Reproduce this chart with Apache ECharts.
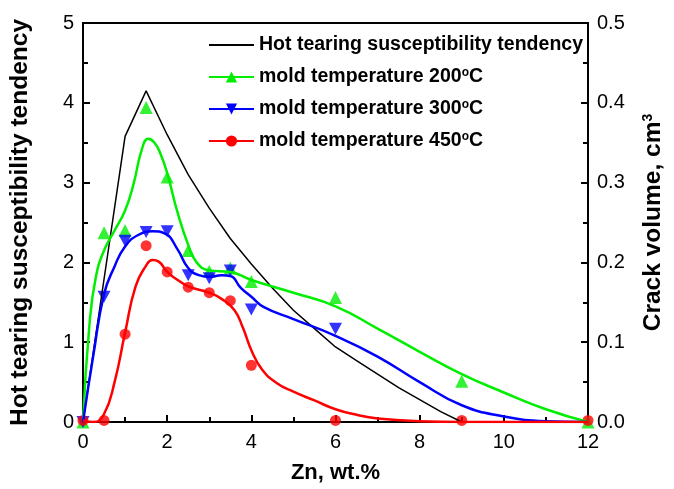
<!DOCTYPE html>
<html><head><meta charset="utf-8">
<script src="https://cdn.jsdelivr.net/npm/echarts@6/dist/echarts.min.js"></script>
<style>html,body{margin:0;padding:0;background:#fff}#c{width:674px;height:489px}</style>
</head><body><div id="c"></div>
<script>
// Hot tearing susceptibility tendency (left axis)
var htsX = [0, 1, 1.5, 2, 2.5, 3, 3.5, 4, 4.5, 5, 5.5, 6, 6.5, 7, 7.5, 8, 8.5, 9];
var htsY = [0, 3.58, 4.15, 3.6, 3.1, 2.68, 2.3, 1.98, 1.68, 1.4, 1.17, 0.94, 0.77, 0.6, 0.43, 0.28, 0.13, 0];

// Measured crack volume (cm3, right axis)
var znPts = [0, 0.5, 1, 1.5, 2, 2.5, 3, 3.5, 4, 6, 9, 12];
var vol200 = [0, 0.237, 0.240, 0.394, 0.307, 0.215, 0.189, 0.193, 0.176, 0.156, 0.051, 0];
var znPts300 = [0, 0.5, 1, 1.5, 2, 2.5, 3, 3.5, 4, 6];
var vol300 = [0, 0.157, 0.227, 0.238, 0.239, 0.184, 0.180, 0.190, 0.141, 0.117];
var vol450 = [0.002, 0.002, 0.110, 0.221, 0.188, 0.169, 0.162, 0.152, 0.071, 0.002, 0.002, 0.002];

// Fitted curves (cm3)
var fit200X = [0, 0.15, 0.3, 0.5, 0.75, 1, 1.2, 1.4, 1.55, 1.7, 1.85, 2, 2.25, 2.5, 2.7, 3, 3.5, 4, 5, 6, 7, 8, 9, 10, 11, 12];
var fit200Y = [0, 0.12, 0.18, 0.215, 0.24, 0.265, 0.298, 0.342, 0.355, 0.350, 0.335, 0.312, 0.262, 0.222, 0.200, 0.190, 0.188, 0.178, 0.162, 0.145, 0.117, 0.088, 0.060, 0.037, 0.016, 0];
var fit300X = [0, 0.25, 0.5, 0.75, 1, 1.3, 1.65, 1.95, 2.25, 2.5, 2.75, 3, 3.3, 3.5, 3.75, 4, 4.3, 5, 6, 7, 8, 9, 10, 11, 12];
var fit300Y = [0, 0.085, 0.16, 0.195, 0.22, 0.234, 0.239, 0.236, 0.216, 0.193, 0.184, 0.182, 0.184, 0.183, 0.168, 0.157, 0.144, 0.129, 0.108, 0.082, 0.050, 0.021, 0.007, 0.001, 0];
var fit450X = [0, 0.25, 0.5, 0.75, 1, 1.25, 1.5, 1.65, 1.8, 2, 2.25, 2.5, 3, 3.3, 3.6, 3.8, 4, 4.25, 4.6, 5, 5.5, 6, 6.5, 7, 8, 9, 12];
var fit450Y = [0.002, 0, 0.010, 0.050, 0.112, 0.170, 0.196, 0.203, 0.201, 0.188, 0.178, 0.170, 0.162, 0.154, 0.140, 0.118, 0.090, 0.066, 0.049, 0.038, 0.027, 0.016, 0.009, 0.0045, 0.001, 0, 0];

var xTicks = [0, 2, 4, 6, 8, 10, 12];
var leftTicks = [0, 1, 2, 3, 4, 5];
var rightTicks = [0.0, 0.1, 0.2, 0.3, 0.4, 0.5];

function pairs(xs, ys){ return xs.map(function(x,i){ return [x, ys[i]]; }); }

var GREEN = '#00ee00', BLUE = '#0000ff', RED = '#ff0000';
var downTri = 'path://M0,0 L10,0 L5,9 Z';
var names = ['Hot tearing susceptibility tendency', 'mold temperature 200', 'mold temperature 300', 'mold temperature 450'];
var FF = 'Liberation Sans';

var chart = echarts.init(document.getElementById('c'));
var axisCommon = {
  axisLine: {show: true, lineStyle: {color: '#000', width: 2}},
  axisTick: {show: true, inside: true, length: 7, lineStyle: {color: '#000', width: 2}},
  minorTick: {show: true, splitNumber: 2, length: 5, lineStyle: {color: '#000', width: 2}},
  splitLine: {show: false}
};
chart.setOption({
  animation: false,
  grid: {left: 83, right: 77, top: 23, bottom: 67, show: true, borderColor: '#000', borderWidth: 2},
  legend: {
    data: [
      {name: names[0], itemStyle: {color: 'rgba(0,0,0,0)', borderWidth: 0}},
      names[1], names[2], names[3]
    ],
    orient: 'vertical', left: 203, top: 30, itemWidth: 45, itemHeight: 14, itemGap: 12,
    textStyle: {color: '#000', fontSize: 19.5, fontWeight: 'bold', fontFamily: FF,
      rich: {sup: {fontSize: 12, fontWeight: 'bold', verticalAlign: 'top', fontFamily: FF, color: '#000'},
             t: {fontSize: 19.5, fontWeight: 'bold', fontFamily: FF, color: '#000'}}},
    formatter: function(n){ if (n === names[0]) return '{t|' + n + '}'; return '{t|' + n + '}{sup|o}{t|C}'; }
  },
  xAxis: Object.assign({}, axisCommon, {
    type: 'value', min: 0, max: 12, interval: 2,
    axisLabel: {color: '#000', fontSize: 20, fontFamily: FF, margin: 10,
      formatter: function(v){ return xTicks.indexOf(v) >= 0 ? String(v) : ''; }},
    name: 'Zn, wt.%', nameLocation: 'middle', nameGap: 40,
    nameTextStyle: {color: '#000', fontSize: 22, fontWeight: 'bold', fontFamily: FF}
  }),
  yAxis: [
    Object.assign({}, axisCommon, {
      type: 'value', min: 0, max: 5, interval: 1, position: 'left',
      axisLabel: {color: '#000', fontSize: 20, fontFamily: FF, margin: 9,
        formatter: function(v){ return leftTicks.indexOf(v) >= 0 ? String(v) : ''; }},
      name: 'Hot tearing susceptibility tendency', nameLocation: 'middle', nameGap: 50, nameRotate: 90,
      nameTextStyle: {color: '#000', fontSize: 24.5, fontWeight: 'bold', fontFamily: FF}
    }),
    Object.assign({}, axisCommon, {
      type: 'value', min: 0, max: 0.5, interval: 0.1, position: 'right',
      axisLabel: {color: '#000', fontSize: 20, fontFamily: FF, margin: 9,
        formatter: function(v){ return v.toFixed(1); }},
      name: 'Crack volume, cm{sup|3}', nameLocation: 'middle', nameGap: 53, nameRotate: 90,
      nameTextStyle: {color: '#000', fontSize: 24.5, fontWeight: 'bold', fontFamily: FF,
        rich: {sup: {fontSize: 14, fontWeight: 'bold', verticalAlign: 'top', fontFamily: FF, color: '#000'}}}
    })
  ],
  series: [
    {name: names[0], type: 'line', yAxisIndex: 0, data: pairs(htsX, htsY), symbol: 'circle', showSymbol: false,
     lineStyle: {color: '#000', width: 1.5}, itemStyle: {color: '#000'}},
    {name: names[1], type: 'line', yAxisIndex: 1, data: pairs(fit200X, fit200Y), smooth: 0.5,
     symbol: 'triangle', symbolSize: 13, showSymbol: false, lineStyle: {color: GREEN, width: 2.5}, itemStyle: {color: GREEN}},
    {name: names[2], type: 'line', yAxisIndex: 1, data: pairs(fit300X, fit300Y), smooth: 0.5,
     symbol: downTri, symbolSize: [13, 12], showSymbol: false, lineStyle: {color: BLUE, width: 2.5}, itemStyle: {color: BLUE}},
    {name: names[3], type: 'line', yAxisIndex: 1, data: pairs(fit450X, fit450Y), smooth: 0.5,
     symbol: 'circle', symbolSize: 10, showSymbol: false, lineStyle: {color: RED, width: 2.5}, itemStyle: {color: RED}},
    {name: 'p200', type: 'scatter', yAxisIndex: 1, data: pairs(znPts, vol200), symbol: 'triangle', symbolSize: 13, itemStyle: {color: GREEN}},
    {name: 'p300', type: 'scatter', yAxisIndex: 1, data: pairs(znPts300, vol300), symbol: downTri, symbolSize: [13, 12], itemStyle: {color: BLUE}},
    {name: 'p450', type: 'scatter', yAxisIndex: 1, data: pairs(znPts, vol450), symbol: 'circle', symbolSize: 11, itemStyle: {color: RED}}
  ]
});
</script></body></html>
